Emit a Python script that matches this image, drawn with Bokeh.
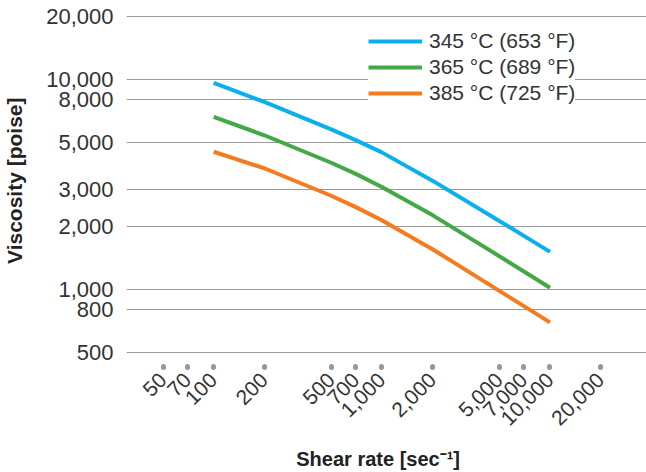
import math
from bokeh.plotting import figure
from bokeh.models import (FixedTicker, NumeralTickFormatter, Legend,
                          LegendItem, Range1d)
from bokeh.embed import file_html
from bokeh.resources import INLINE

# ---- data ----
shear_rate = [100, 200, 500, 700, 1000, 2000, 5000, 7000, 10000]
visc_345 = [9640, 7830, 5790, 5150, 4500, 3300, 2120, 1800, 1510]
visc_365 = [6640, 5430, 4015, 3555, 3080, 2260, 1440, 1217, 1018]
visc_385 = [4530, 3780, 2795, 2467, 2138, 1555, 984, 832, 696]
series_names = ["345 °C (653 °F)", "365 °C (689 °F)", "385 °C (725 °F)"]
x_ticks = [50, 70, 100, 200, 500, 700, 1000, 2000, 5000, 7000, 10000, 20000]
y_ticks = [500, 800, 1000, 2000, 3000, 5000, 8000, 10000, 20000]
x_title = "Shear rate [sec⁻¹]"
y_title = "Viscosity [poise]"

colors = ["#0AB0EC", "#45A846", "#F47B20"]
FONT = "Liberation Sans"
TXT = "#333333"
NB = "\u00a0"

W, H = 646, 472
FL, FB = 124, 367   # frame left / bottom in canvas pixels
p = figure(width=W, height=H, x_axis_type="log", y_axis_type="log",
           x_range=Range1d(30.3, 37500), y_range=Range1d(429, 20893),
           output_backend="svg", toolbar_location=None,
           min_border_left=FL, min_border_right=0,
           min_border_top=12, min_border_bottom=H - FB)
p.outline_line_color = None
p.background_fill_color = "white"

renderers = []
for vals, c in zip([visc_345, visc_365, visc_385], colors):
    r = p.line(shear_rate, vals, line_color=c, line_width=4, line_join="round")
    renderers.append(r)

# grid
p.xgrid.grid_line_color = None
p.ygrid.grid_line_color = "#9a9a9a"
p.ygrid.grid_line_width = 1
p.ygrid.ticker = FixedTicker(ticks=y_ticks)

# y axis
ya = p.yaxis[0]
ya.ticker = FixedTicker(ticks=y_ticks)
ya.formatter = NumeralTickFormatter(format="0,0")
ya.axis_line_color = None
ya.major_tick_line_color = None
ya.minor_tick_line_color = None
ya.major_tick_out = 0
ya.major_tick_in = 0
ya.major_label_standoff = 13
ya.major_label_text_font = FONT
ya.major_label_text_font_size = "22px"
ya.major_label_text_color = TXT
ya.axis_label = NB * 3 + y_title
ya.axis_label_text_font = FONT
ya.axis_label_text_font_style = "bold"
ya.axis_label_text_font_size = "21px"
ya.axis_label_text_color = "#222222"
ya.axis_label_standoff = 17

# x axis
xa = p.xaxis[0]
xa.ticker = FixedTicker(ticks=x_ticks)
xa.formatter = NumeralTickFormatter(format="0,0")
xa.axis_line_color = None
xa.minor_tick_line_color = None
xa.major_tick_in = 0
xa.major_tick_out = 1
xa.major_tick_line_color = "#999999"
xa.major_tick_line_width = 5
xa.major_tick_line_cap = "round"
xa.major_label_orientation = math.pi / 4
xa.major_label_standoff = 9
xa.major_label_text_font = FONT
xa.major_label_text_font_size = "21px"
xa.major_label_text_color = TXT
xa.axis_label = x_title + NB * 3
xa.axis_label_text_font = FONT
xa.axis_label_text_font_style = "bold"
xa.axis_label_text_font_size = "20px"
xa.axis_label_text_color = "#222222"
xa.axis_label_standoff = 13

# legend
legend = Legend(items=[LegendItem(label=n, renderers=[r]) for n, r in zip(series_names, renderers)],
                location=(242, 261))
legend.border_line_color = None
legend.background_fill_color = "white"
legend.background_fill_alpha = 1.0
legend.padding = 10
legend.spacing = 2
legend.glyph_width = 54
legend.glyph_height = 20
legend.label_height = 20
legend.label_standoff = 7
legend.label_text_font = FONT
legend.label_text_font_size = "21px"
legend.label_text_color = TXT
legend.margin = 0
p.add_layout(legend)

open("out.html", "w").write(file_html(p, INLINE))
